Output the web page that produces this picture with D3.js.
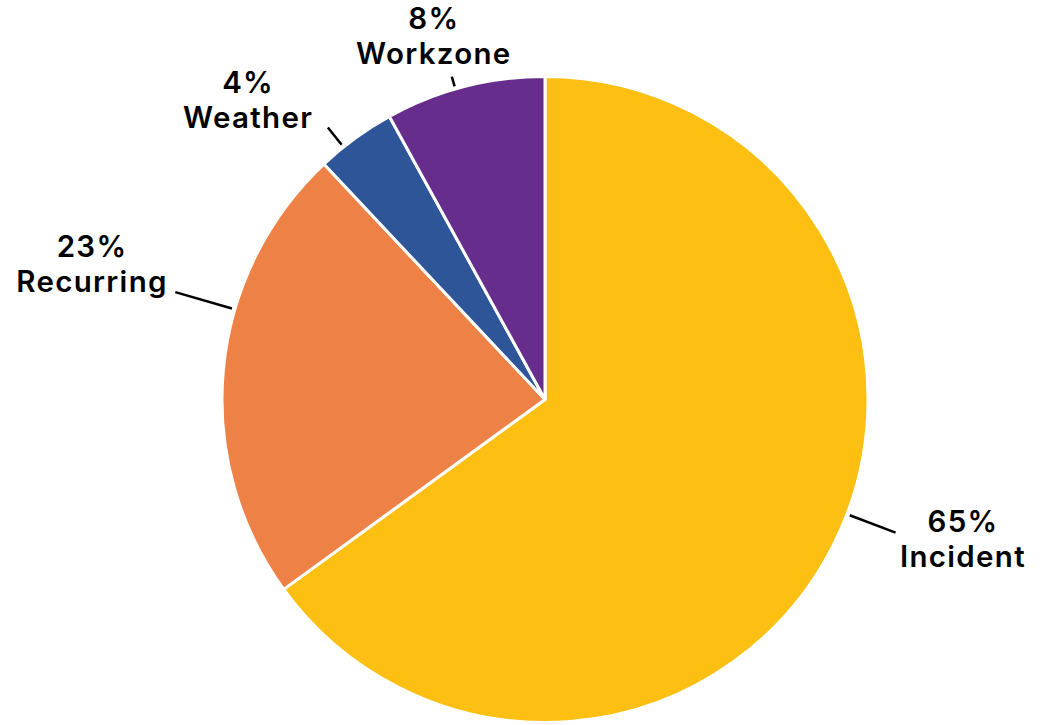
<!DOCTYPE html>
<html>
<head>
<meta charset="utf-8">
<script src="https://cdn.jsdelivr.net/npm/d3@7"></script>
<style>
    body { margin: 0; background: #fff; }
    .label { font-family: "Inter", "Noto Sans", sans-serif; font-weight: 600; font-size: 29.5px; letter-spacing: 1.3px; fill: #000; }
</style>
</head>
<body>
<div id="chart"></div>
<script>

// data
const categories = ["Incident", "Recurring", "Weather", "Workzone"];
const shares = [65, 23, 4, 8];
const colors = ["#fcbf12", "#ee8146", "#2e5597", "#662d8c"];

// label layout (degrees clockwise from top, radii in px)
const leaderAngle = [110.8, 286.2, 321.4, 343.9];
const leaderOuter = [375, 385, 348, 336];
const textAngle = [107.65, 287.5, 315.95, 343.3];
const textRadius = [438.6, 475, 427, 387];

class PieVis {

    constructor(_parentElement) {
        this.parentElement = _parentElement;
        this.displayData = categories.map((c, i) => ({ name: c, value: shares[i], color: colors[i], idx: i }));
        this.initVis();
    }

    initVis() {
        let vis = this;

        vis.width = 1042;
        vis.height = 725;
        vis.radius = 323;

        vis.svg = d3.select("#" + vis.parentElement).append("svg")
            .attr("width", vis.width)
            .attr("height", vis.height)
            .append("g")
            .attr("transform", "translate(545,399.5)");

        vis.pie = d3.pie()
            .sort(null)
            .value(d => d.value);

        vis.arc = d3.arc()
            .innerRadius(0)
            .outerRadius(vis.radius);

        vis.updateVis();
    }

    updateVis() {
        let vis = this;
        const rad = Math.PI / 180;

        vis.svg.selectAll(".slice")
            .data(vis.pie(vis.displayData))
            .enter()
            .append("path")
            .attr("class", "slice")
            .attr("d", vis.arc)
            .attr("fill", d => d.data.color)
            .attr("stroke", "#fff")
            .attr("stroke-width", 3)
            .attr("stroke-linejoin", "round");

        // leader lines
        vis.svg.selectAll(".leader")
            .data(vis.displayData)
            .enter()
            .append("line")
            .attr("class", "leader")
            .attr("x1", d => d3.pointRadial(leaderAngle[d.idx] * rad, vis.radius + 3)[0])
            .attr("y1", d => d3.pointRadial(leaderAngle[d.idx] * rad, vis.radius + 3)[1])
            .attr("x2", d => d3.pointRadial(leaderAngle[d.idx] * rad, leaderOuter[d.idx])[0])
            .attr("y2", d => d3.pointRadial(leaderAngle[d.idx] * rad, leaderOuter[d.idx])[1])
            .attr("stroke", "#000")
            .attr("stroke-width", 2.5);

        // labels
        let labels = vis.svg.selectAll(".label")
            .data(vis.displayData)
            .enter()
            .append("text")
            .attr("class", "label")
            .attr("text-anchor", "middle")
            .attr("transform", d => "translate(" + d3.pointRadial(textAngle[d.idx] * rad, textRadius[d.idx]) + ")");

        labels.append("tspan")
            .attr("x", 0)
            .attr("y", 0)
            .text(d => d.value + "%");

        labels.append("tspan")
            .attr("x", 0)
            .attr("y", 35)
            .text(d => d.name);
    }
}

new PieVis("chart");
</script>
</body>
</html>
